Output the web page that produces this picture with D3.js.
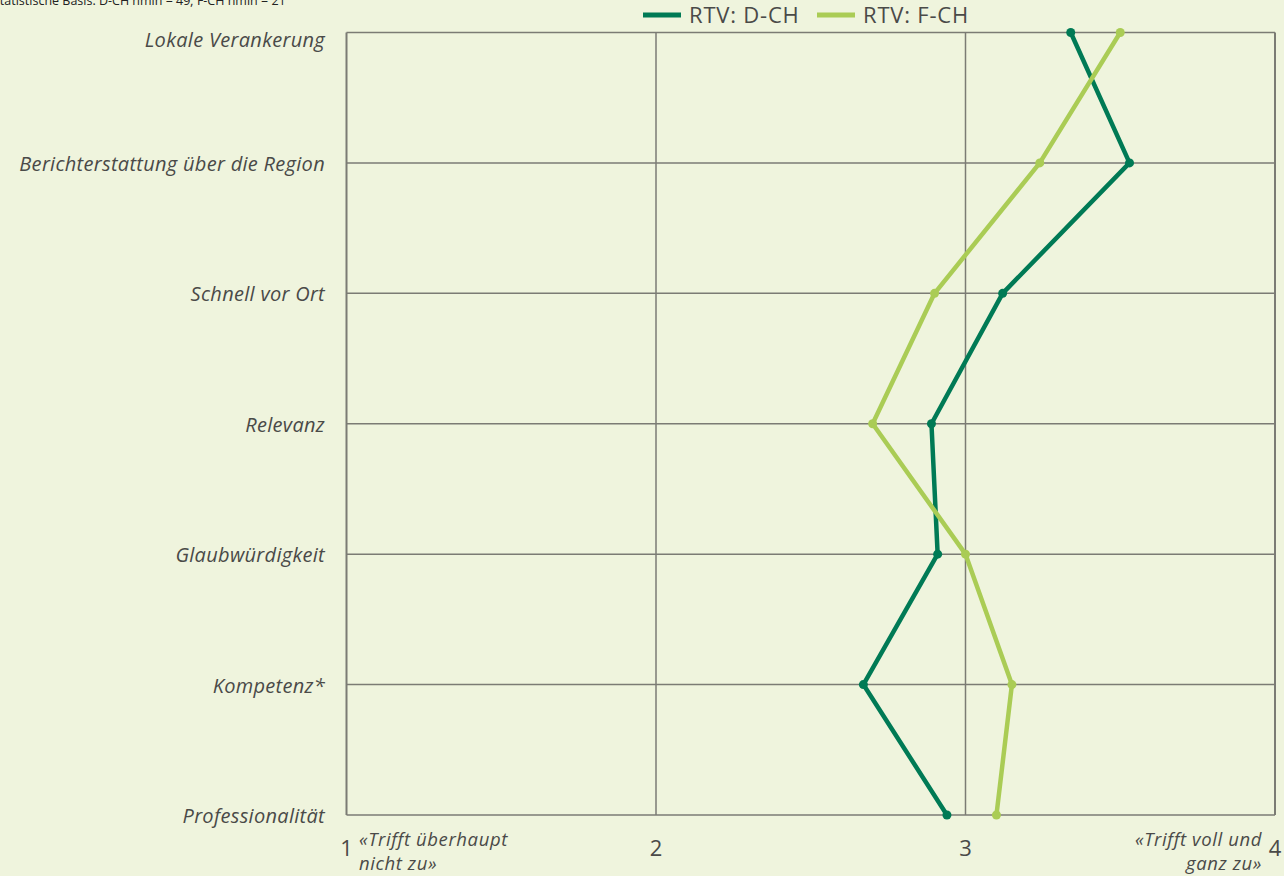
<!DOCTYPE html>
<html>
<head>
<meta charset="utf-8">
<script src="https://cdn.jsdelivr.net/npm/d3@7"></script>
<style>
    html, body { margin: 0; padding: 0; background: #eff4dd; }
    svg { display: block; font-family: "Open Sans", "Noto Sans", sans-serif; }
</style>
</head>
<body>
<div id="chart"></div>
<script>
    // categories top to bottom
    var categories = [
        'Lokale Verankerung',
        'Berichterstattung über die Region',
        'Schnell vor Ort',
        'Relevanz',
        'Glaubwürdigkeit',
        'Kompetenz*',
        'Professionalität'
    ];
    var seriesNames = ['RTV: D-CH', 'RTV: F-CH'];
    var valuesDCH = [3.34, 3.53, 3.12, 2.89, 2.91, 2.67, 2.94];
    var valuesFCH = [3.50, 3.24, 2.90, 2.70, 3.00, 3.15, 3.10];
    var xTicks = [1, 2, 3, 4];
    var note = 'Statistische Basis: D-CH nmin = 49; F-CH nmin = 21';

    var width = 1284,
        height = 876,
        margin = {left: 346.5, right: 9, top: 32.5, bottom: 61},
        colors = ['#007a55', '#aacc55'],
        textColor = '#4a4a48',
        gridColor = '#7b7b74';

    var svg = d3.select('#chart').append('svg')
        .attr('width', width)
        .attr('height', height);

    svg.append('rect')
        .attr('width', width)
        .attr('height', height)
        .attr('fill', '#eff4dd');

    var x = d3.scaleLinear()
        .domain([1, 4])
        .range([margin.left, width - margin.right]);

    var y = d3.scalePoint()
        .domain(categories)
        .range([margin.top, height - margin.bottom]);

    // note at top, partly cut off like the original
    svg.append('text')
        .attr('x', -7)
        .attr('y', 5)
        .attr('font-size', 12.5)
        .attr('fill', '#222')
        .text(note);

    // grid
    var grid = svg.append('g');
    grid.selectAll('line.h')
        .data(categories)
        .enter().append('line')
        .attr('class', 'h')
        .attr('x1', x(1))
        .attr('x2', x(4))
        .attr('y1', function (d) { return y(d); })
        .attr('y2', function (d) { return y(d); })
        .attr('stroke', gridColor)
        .attr('stroke-width', 1.5);
    grid.selectAll('line.v')
        .data(xTicks)
        .enter().append('line')
        .attr('class', 'v')
        .attr('x1', function (d) { return x(d); })
        .attr('x2', function (d) { return x(d); })
        .attr('y1', y(categories[0]))
        .attr('y2', y(categories[categories.length - 1]))
        .attr('stroke', gridColor)
        .attr('stroke-width', function (d) { return (d === 1 || d === 4) ? 2 : 1.5; });

    // category labels
    svg.append('g').selectAll('text')
        .data(categories)
        .enter().append('text')
        .attr('x', 325)
        .attr('y', function (d, i) { return i === 0 ? y(d) + 14 : y(d) + 8; })
        .attr('text-anchor', 'end')
        .attr('font-size', 20)
        .attr('letter-spacing', 0.3)
        .attr('font-style', 'italic')
        .attr('fill', textColor)
        .text(function (d) { return d; });

    // x tick labels
    svg.append('g').selectAll('text')
        .data(xTicks)
        .enter().append('text')
        .attr('x', function (d) { return x(d); })
        .attr('y', 856)
        .attr('text-anchor', 'middle')
        .attr('font-size', 22)
        .attr('fill', textColor)
        .text(function (d) { return d; });

    // end-point descriptions, two lines each
    var notes = [
        {x: 359, anchor: 'start', lines: ['«Trifft überhaupt', 'nicht zu»']},
        {x: 1262, anchor: 'end', lines: ['«Trifft voll und', 'ganz zu»']}
    ];
    notes.forEach(function (n) {
        n.lines.forEach(function (t, i) {
            svg.append('text')
                .attr('x', n.x)
                .attr('y', 846 + i * 24)
                .attr('text-anchor', n.anchor)
                .attr('font-size', 18.5)
                .attr('letter-spacing', 0.6)
                .attr('font-style', 'italic')
                .attr('fill', textColor)
                .text(t);
        });
    });

    // series
    var series = [valuesDCH, valuesFCH];
    var line = d3.line()
        .x(function (d) { return x(d.v); })
        .y(function (d) { return y(d.c); });

    series.forEach(function (vals, s) {
        var pts = vals.map(function (v, i) { return {v: v, c: categories[i]}; });
        var g = svg.append('g');
        g.append('path')
            .datum(pts)
            .attr('d', line)
            .attr('fill', 'none')
            .attr('stroke', colors[s])
            .attr('stroke-width', 4.5)
            .attr('stroke-linejoin', 'round');
        g.selectAll('circle')
            .data(pts)
            .enter().append('circle')
            .attr('cx', function (d) { return x(d.v); })
            .attr('cy', function (d) { return y(d.c); })
            .attr('r', 4.5)
            .attr('fill', colors[s]);
    });

    // legend
    var legendX = [643, 817];
    var legend = svg.append('g');
    seriesNames.forEach(function (name, i) {
        legend.append('line')
            .attr('x1', legendX[i])
            .attr('x2', legendX[i] + 38)
            .attr('y1', 15)
            .attr('y2', 15)
            .attr('stroke', colors[i])
            .attr('stroke-width', 5);
        legend.append('text')
            .attr('x', legendX[i] + 46)
            .attr('y', 23)
            .attr('font-size', 22)
            .attr('letter-spacing', 0.8)
            .attr('fill', textColor)
            .text(name);
    });
</script>
</body>
</html>
